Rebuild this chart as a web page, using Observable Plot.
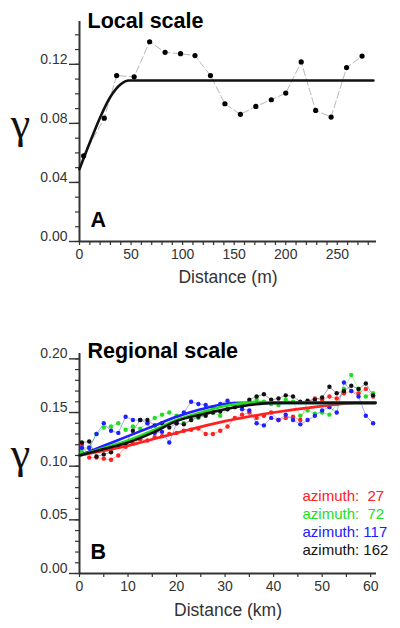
<!DOCTYPE html>
<html>
<head>
<meta charset="utf-8">
<script src="https://cdn.jsdelivr.net/npm/d3@7"></script>
<script src="https://cdn.jsdelivr.net/npm/@observablehq/plot@0.6"></script>
<style>
  html, body { margin: 0; padding: 0; background: #fff; }
  #chart svg { display: block; }
</style>
</head>
<body>
<div id="chart"></div>
<script>
// ---------- Panel A: local scale ----------
const localLag = [4, 24, 36, 53, 68, 83, 98, 112, 127, 141, 156, 171, 186, 200, 215, 229, 244, 259, 274];
const localGamma = [0.058, 0.0835, 0.1124, 0.1115, 0.1353, 0.1281, 0.1272, 0.1259, 0.1124, 0.0933, 0.0861, 0.0915, 0.096, 0.1005, 0.1216, 0.0888, 0.0843, 0.1178, 0.1256];
const localModelLag = [0, 10, 20, 30, 40, 48, 285];
const localModelGamma = [0.049, 0.067, 0.084, 0.098, 0.1065, 0.109, 0.109];
const localYMajor = [0, 0.04, 0.08, 0.12];
const localYMinor = [0, 0.01, 0.02, 0.03, 0.04, 0.05, 0.06, 0.07, 0.08, 0.09, 0.10, 0.11, 0.12, 0.13, 0.14];
const localXMajor = [0, 50, 100, 150, 200, 250];
const localXMinor = [0, 10, 20, 30, 40, 50, 60, 70, 80, 90, 100, 110, 120, 130, 140, 150, 160, 170, 180, 190, 200, 210, 220, 230, 240, 250, 260, 270, 280];

// ---------- Panel B: regional scale ----------
const regLag = [0.5, 2, 3.5, 5, 6.5, 8, 9.5, 11, 12.5, 14, 15.5, 17, 18.5, 20, 21.5, 23, 24.5, 26, 27.5, 29, 30.5, 32, 33.5, 35, 36.5, 38, 39.5, 41, 42.5, 44, 45.5, 47, 48.5, 50, 51.5, 53, 54.5, 56, 57.5, 59, 60.5];
const az27 = [0.120, 0.108, 0.108, 0.107, 0.106, 0.110, 0.118, 0.121, 0.125, 0.124, 0.127, 0.128, 0.130, 0.131, 0.133, 0.134, 0.135, 0.130, 0.130, 0.133, 0.137, 0.145, 0.148, 0.150, 0.145, 0.147, 0.150, 0.143, 0.145, 0.146, 0.143, 0.160, 0.163, 0.162, 0.165, 0.163, 0.168, 0.170, 0.168, 0.172, 0.165];
const az72 = [0.113, 0.118, 0.130, 0.136, 0.137, 0.140, 0.134, 0.137, 0.135, 0.140, 0.145, 0.148, 0.150, 0.147, 0.140, 0.143, 0.145, 0.148, 0.150, 0.147, 0.153, 0.155, 0.157, 0.160, 0.162, 0.160, 0.158, 0.157, 0.162, 0.160, 0.147, 0.152, 0.149, 0.150, 0.148, 0.158, 0.172, 0.185, 0.172, 0.165, 0.168];
const az117 = [0.117, 0.117, 0.130, 0.140, 0.133, 0.131, 0.146, 0.143, 0.143, 0.140, 0.131, 0.132, 0.122, 0.140, 0.150, 0.160, 0.158, 0.157, 0.155, 0.158, 0.161, 0.158, 0.153, 0.152, 0.140, 0.138, 0.145, 0.143, 0.148, 0.143, 0.139, 0.143, 0.147, 0.152, 0.155, 0.150, 0.178, 0.170, 0.165, 0.147, 0.140];
const az162 = [0.122, 0.123, 0.109, 0.111, 0.113, 0.119, 0.121, 0.133, 0.143, 0.143, 0.138, 0.140, 0.136, 0.140, 0.139, 0.143, 0.146, 0.147, 0.150, 0.151, 0.153, 0.155, 0.156, 0.162, 0.165, 0.167, 0.162, 0.163, 0.166, 0.165, 0.160, 0.161, 0.162, 0.164, 0.174, 0.168, 0.170, 0.175, 0.172, 0.177, 0.166];

const model27Lag = [0, 10, 20, 30, 40, 50, 57, 61];
const model27 = [0.110, 0.119, 0.131, 0.142, 0.150, 0.156, 0.159, 0.159];
const model72Lag = [0, 5, 10, 15, 20, 25, 30, 35, 61];
const model72 = [0.110, 0.117, 0.124, 0.133, 0.143, 0.150, 0.156, 0.159, 0.159];
const model117Lag = [0, 5, 10, 15, 20, 25, 30, 33, 61];
const model117 = [0.110, 0.119, 0.128, 0.137, 0.146, 0.153, 0.158, 0.159, 0.159];
const model162Lag = [0, 5, 10, 15, 20, 25, 30, 35, 40, 61];
const model162 = [0.110, 0.116, 0.122, 0.131, 0.142, 0.148, 0.153, 0.157, 0.159, 0.159];

const azimuths = ["27", "72", "117", "162"];
const azColors = ["#ff2020", "#22dd22", "#2020ff", "#111111"];
const regYMajor = [0, 0.05, 0.10, 0.15, 0.20];
const regYMinor = [0, 0.01, 0.02, 0.03, 0.04, 0.05, 0.06, 0.07, 0.08, 0.09, 0.10, 0.11, 0.12, 0.13, 0.14, 0.15, 0.16, 0.17, 0.18, 0.19, 0.20];
const regXMajor = [0, 10, 20, 30, 40, 50, 60];
const regXMinor = [0, 5, 10, 15, 20, 25, 30, 35, 40, 45, 50, 55, 60];

const FONT = "Liberation Sans, Arial, Helvetica, sans-serif";
const AXIS = "#333";
const fmt2 = d3.format(".2f");

function toRows(xs, ys) { return xs.map((x, i) => ({x, y: ys[i]})); }

function axisMarks(yMajor, yMinor, xMajor, xMinor) {
  return [
    Plot.axisY(yMinor, {tickSize: 4, tickFormat: () => "", stroke: AXIS, strokeWidth: 1.2, label: null}),
    Plot.axisY(yMajor, {tickSize: 10, tickFormat: () => "", stroke: AXIS, strokeWidth: 1.4, label: null}),
    Plot.axisY(yMajor, {tickSize: 0, tickPadding: 12, tickFormat: fmt2, fontSize: 14, dy: -5, fill: AXIS, label: null}),
    Plot.axisX(xMinor, {tickSize: 4, tickFormat: () => "", stroke: AXIS, strokeWidth: 1.2, label: null}),
    Plot.axisX(xMajor, {tickSize: 0, tickPadding: 8, fontSize: 14, fill: AXIS, label: null}),
    Plot.ruleX([0], {stroke: AXIS, strokeWidth: 2}),
    Plot.ruleY([0], {stroke: AXIS, strokeWidth: 2})
  ];
}

// ---------- Plot A ----------
const localPts = toRows(localLag, localGamma);
const localModel = toRows(localModelLag, localModelGamma);

const plotA = Plot.plot({
  width: 400,
  height: 330,
  marginLeft: 79,
  marginRight: 24,
  marginTop: 21,
  marginBottom: 89,
  style: {fontFamily: FONT, background: "#fff", color: AXIS},
  x: {domain: [0, 288], axis: null},
  y: {domain: [0, 0.149], axis: null},
  marks: [
    ...axisMarks(localYMajor, localYMinor, localXMajor, localXMinor),
    Plot.line(localPts, {x: "x", y: "y", stroke: "#b8b8b8", strokeWidth: 1, strokeDasharray: "7,3"}),
    Plot.line(localModel, {x: "x", y: "y", stroke: "#111", strokeWidth: 2.6, curve: "monotone-x"}),
    Plot.dot(localPts, {x: "x", y: "y", r: 2.6, fill: "#000"}),
    Plot.text(["Local scale"], {text: d => d, frameAnchor: "top-left", textAnchor: "start", lineAnchor: "middle", dx: 8, dy: 0, fontSize: 21.5, fontWeight: "bold", fill: "#000"}),
    Plot.text(["A"], {text: d => d, frameAnchor: "bottom-left", textAnchor: "start", lineAnchor: "middle", dx: 11, dy: -21, fontSize: 21.5, fontWeight: "bold", fill: "#000"}),
    Plot.text(["γ"], {text: d => d, frameAnchor: "left", textAnchor: "middle", lineAnchor: "middle", dx: -59, dy: -8, fontSize: 44, fontFamily: "Liberation Serif, Times New Roman, serif", fill: "#111"}),
    Plot.text(["Distance (m)"], {text: d => d, frameAnchor: "bottom", textAnchor: "middle", lineAnchor: "middle", dy: 36, fontSize: 17.5, fill: AXIS})
  ]
});

// ---------- Plot B ----------
const series = [az27, az72, az117, az162];
const modelLags = [model27Lag, model72Lag, model117Lag, model162Lag];
const modelVals = [model27, model72, model117, model162];

const regPts = series.flatMap((vals, k) => regLag.map((x, i) => ({x, y: vals[i], az: azimuths[k]})));
const regModels = modelVals.flatMap((vals, k) => modelLags[k].map((x, i) => ({x, y: vals[i], az: azimuths[k]})));
const modelOrder = ["27", "117", "72", "162"];
const colorOf = az => azColors[azimuths.indexOf(az)];

const legendRows = azimuths.map((a, k) => ({label: "azimuth:\u00a0" + (a.length === 2 ? "\u00a0" : "") + a, color: azColors[k], k}));
const legendDy = [-77, -59, -41, -23];

const plotB = Plot.plot({
  width: 400,
  height: 298,
  marginLeft: 79,
  marginRight: 24,
  marginTop: 23,
  marginBottom: 55,
  style: {fontFamily: FONT, background: "#fff", color: AXIS},
  x: {domain: [0, 61.2], axis: null},
  y: {domain: [0, 0.205], axis: null},
  marks: [
    ...axisMarks(regYMajor, regYMinor, regXMajor, regXMinor),
    ...azimuths.map(a => Plot.line(regPts.filter(d => d.az === a), {x: "x", y: "y", stroke: colorOf(a), strokeWidth: 0.7, strokeOpacity: 0.55})),
    ...azimuths.map(a => Plot.dot(regPts.filter(d => d.az === a), {x: "x", y: "y", r: 2.2, fill: colorOf(a)})),
    ...modelOrder.map(a => Plot.line(regModels.filter(d => d.az === a), {x: "x", y: "y", stroke: colorOf(a), strokeWidth: 2.6, curve: "monotone-x"})),
    Plot.text(["Regional scale"], {text: d => d, frameAnchor: "top-left", textAnchor: "start", lineAnchor: "middle", dx: 8, dy: -2, fontSize: 21.5, fontWeight: "bold", fill: "#000"}),
    Plot.text(["B"], {text: d => d, frameAnchor: "bottom-left", textAnchor: "start", lineAnchor: "middle", dx: 11, dy: -21, fontSize: 21.5, fontWeight: "bold", fill: "#000"}),
    Plot.text(["γ"], {text: d => d, frameAnchor: "left", textAnchor: "middle", lineAnchor: "middle", dx: -59, dy: -10, fontSize: 44, fontFamily: "Liberation Serif, Times New Roman, serif", fill: "#111"}),
    Plot.text(["Distance (km)"], {text: d => d, frameAnchor: "bottom", textAnchor: "middle", lineAnchor: "middle", dy: 37, fontSize: 17.5, fill: AXIS}),
    ...legendRows.map(r => Plot.text([r], {text: "label", frameAnchor: "bottom-right", textAnchor: "start", lineAnchor: "middle", dx: -74, dy: legendDy[r.k], fontSize: 15, fill: r.color}))
  ]
});

const chart = document.getElementById("chart");
chart.appendChild(plotA);
chart.appendChild(plotB);
</script>
</body>
</html>
